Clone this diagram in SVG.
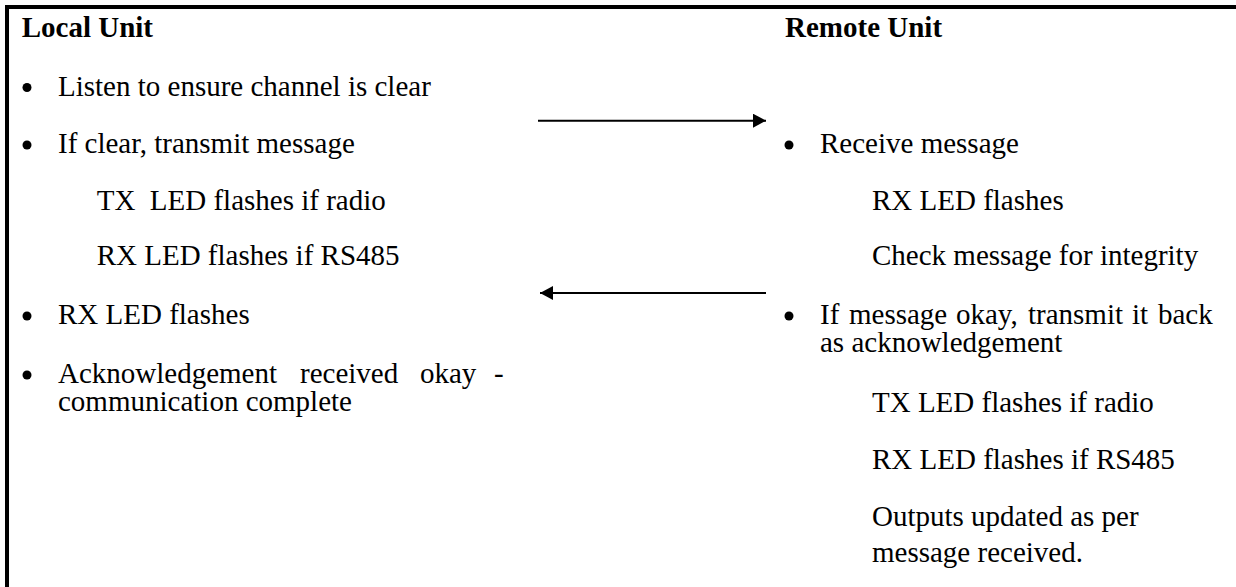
<svg xmlns="http://www.w3.org/2000/svg" width="1236" height="587" viewBox="0 0 1236 587">
  <style>
    text { font-family: "Liberation Serif", "Times New Roman", serif; font-size: 29px; fill: #000; }
    .h { font-weight: bold; }
    .bullet { fill: #000; }
    .conn { stroke: #000; stroke-width: 2; fill: none; }
  </style>
  <defs>
    <marker id="arrow" markerUnits="userSpaceOnUse" markerWidth="14" markerHeight="14" refX="13" refY="7" orient="auto">
      <path d="M0,0 L13,7 L0,14 Z" fill="#000"/>
    </marker>
  </defs>
  <rect width="1236" height="587" fill="#fff"/>
  <path d="M7,587 V7 H1236" stroke="#000" stroke-width="4" fill="none"/>

  <g id="local-unit">
    <text class="h" x="21.7" y="37">Local Unit</text>
    <circle class="bullet" cx="27" cy="87.5" r="4.5"/>
    <text x="58" y="95.5">Listen to ensure channel is clear</text>
    <circle class="bullet" cx="27" cy="145" r="4.5"/>
    <text x="58" y="153">If clear, transmit message</text>
    <text x="96.7" y="210" xml:space="preserve">TX  LED flashes if radio</text>
    <text x="96.7" y="265">RX LED flashes if RS485</text>
    <circle class="bullet" cx="27" cy="316" r="4.5"/>
    <text x="58" y="324">RX LED flashes</text>
    <circle class="bullet" cx="27" cy="375" r="4.5"/>
    <text y="383"><tspan x="58">Acknowledgement</tspan><tspan x="300">received</tspan><tspan x="420">okay</tspan><tspan x="494">-</tspan></text>
    <text x="58" y="411">communication complete</text>
  </g>

  <g id="remote-unit">
    <text class="h" x="785" y="37">Remote Unit</text>
    <circle class="bullet" cx="789" cy="145" r="4.5"/>
    <text x="820" y="153">Receive message</text>
    <text x="872" y="210">RX LED flashes</text>
    <text x="872" y="265">Check message for integrity</text>
    <circle class="bullet" cx="789" cy="316" r="4.5"/>
    <text y="324"><tspan x="820">If</tspan><tspan x="849">message</tspan><tspan x="956">okay,</tspan><tspan x="1028">transmit</tspan><tspan x="1132">it</tspan><tspan x="1158">back</tspan></text>
    <text x="820" y="352">as acknowledgement</text>
    <text x="872" y="412">TX LED flashes if radio</text>
    <text x="872" y="469">RX LED flashes if RS485</text>
    <text x="872" y="526">Outputs updated as per</text>
    <text x="872" y="562">message received.</text>
  </g>

  <g id="connectors">
    <line class="conn" x1="538" y1="120.7" x2="766" y2="120.7" marker-end="url(#arrow)"/>
    <line class="conn" x1="766" y1="293" x2="540" y2="293" marker-end="url(#arrow)"/>
  </g>
</svg>
